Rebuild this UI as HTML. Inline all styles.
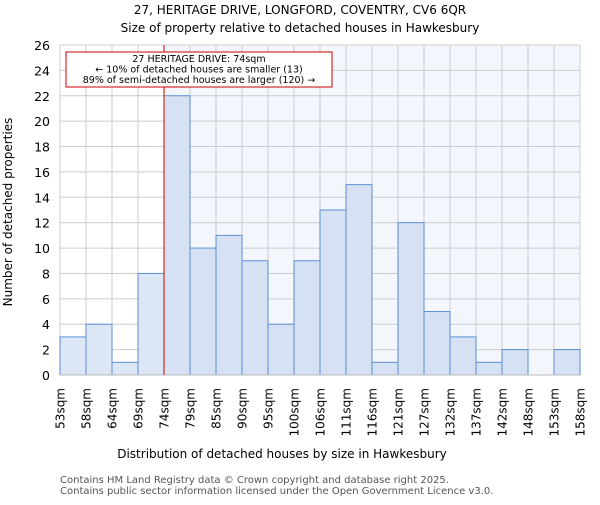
<!DOCTYPE html>
<html><head><meta charset="utf-8"><style>body{margin:0;background:#fff}svg text{font-family:"DejaVu Sans","Liberation Sans",sans-serif}</style></head>
<body>
<svg id="c" width="600" height="500" xmlns="http://www.w3.org/2000/svg">
<text x="300" y="14" text-anchor="middle" font-size="12">27, HERITAGE DRIVE, LONGFORD, COVENTRY, CV6 6QR</text>
<text x="300" y="32" text-anchor="middle" font-size="12">Size of property relative to detached houses in Hawkesbury</text>
<g id="plot"></g>
<text x="282" y="458" text-anchor="middle" font-size="12">Distribution of detached houses by size in Hawkesbury</text>
<text transform="translate(12,212) rotate(-90)" text-anchor="middle" font-size="12">Number of detached properties</text>
<text x="60" y="483" font-size="10" fill="#555">Contains HM Land Registry data © Crown copyright and database right 2025.</text>
<text x="60" y="494" font-size="10" fill="#555">Contains public sector information licensed under the Open Government Licence v3.0.</text>
</svg>
<script>
const categories=["53sqm","58sqm","64sqm","69sqm","74sqm","79sqm","85sqm","90sqm","95sqm","100sqm","106sqm","111sqm","116sqm","121sqm","127sqm","132sqm","137sqm","142sqm","148sqm","153sqm","158sqm"];
const counts=[3,4,1,8,22,10,11,9,4,9,13,15,1,12,5,3,1,2,0,2];
const yTicks=[0,2,4,6,8,10,12,14,16,18,20,22,24,26];
const markerIndex=4;
const X0=60,X1=580,Y0=375,Y1=45,YMAX=26;
const bw=(X1-X0)/counts.length;
const x=i=>X0+i*bw, y=v=>Y0-(v/YMAX)*(Y0-Y1);
const NS="http://www.w3.org/2000/svg",g=document.getElementById('plot');
function mk(t,a,txt){const e=document.createElementNS(NS,t);for(const k in a)e.setAttribute(k,a[k]);if(txt!=null)e.textContent=txt;g.appendChild(e);return e;}
let bg=mk('rect',{x:x(markerIndex),y:Y1,width:X1-x(markerIndex),height:Y0-Y1,fill:'#f3f6fc'});


yTicks.forEach(t=>{let l=mk('line',{x1:X0,x2:X1,y1:y(t),y2:y(t),stroke:'#ccc'});


let tx=mk('text',{x:X0-10,y:y(t)+5,'text-anchor':'end','font-size':12.5},t);

});
categories.forEach((c,i)=>{let l=mk('line',{x1:x(i),x2:x(i),y1:Y1,y2:Y0,stroke:'#ccc'});


let tx=mk('text',{transform:`translate(${x(i)+4.5},388) rotate(-90)`,'text-anchor':'end','font-size':12},c);

});
counts.forEach((v,i)=>{if(v<=0)return;let r=mk('rect',{x:x(i),y:y(v),width:bw,height:Y0-y(v),fill:i<markerIndex?'#dce6f4':'#d6e2f3',stroke:'#5b8fd6','stroke-width':1});

});
let ax=mk('line',{x1:X0,x2:X1,y1:Y0,y2:Y0,stroke:'#bbb'});


let ml=mk('line',{x1:x(markerIndex),x2:x(markerIndex),y1:Y1,y2:Y0,stroke:'#cc0000','stroke-width':1});


let box=mk('rect',{x:66,y:52,width:266,height:35,fill:'#fff',stroke:'#cc0000','stroke-width':1});


["27 HERITAGE DRIVE: 74sqm","← 10% of detached houses are smaller (13)","89% of semi-detached houses are larger (120) →"].forEach((s,k)=>{let t=mk('text',{x:199,y:62+k*10.5,'text-anchor':'middle','font-size':9.5},s);

});
</script>
</body></html>
